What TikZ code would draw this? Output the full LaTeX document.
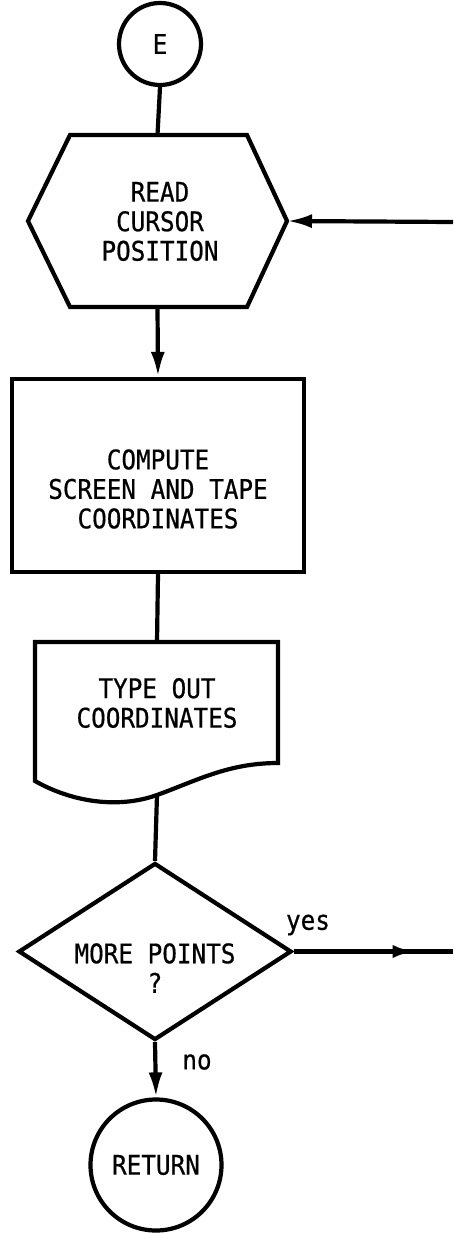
\documentclass[tikz,border=0pt]{standalone}
\usepackage{fontspec}
\newfontfamily\chartfont[FakeStretch=0.9, FakeBold=0.6]{DejaVu Sans Mono}
\usetikzlibrary{arrows.meta,shapes.geometric,decorations.markings}
\begin{document}
\begin{tikzpicture}[x=1pt,y=-1pt,
  flow/.style={line width=4.2pt, line join=miter},
  txt/.style={font=\chartfont\fontsize{27}{29.5}\selectfont, align=center, inner sep=0pt},
  tip/.style={-{Latex[length=25pt,width=14pt]}},
  midtip/.style={postaction={decorate, decoration={markings,
      mark=at position #1 with {\arrow{Latex[length=22pt,width=13pt]}}}}},
  terminal/.style={flow, draw, circle, inner sep=0pt},
  frame/.style={draw=none, inner sep=0pt, outer sep=0pt}
]
\useasboundingbox (0,0) rectangle (453,1233);

% entry connector
\node[terminal, minimum size=82pt, txt] (start) at (160,44) {E};

% read cursor position (hexagonal preparation box)
\node[frame, minimum width=259pt, minimum height=172pt] (read) at (157.5,221) {};
\draw[flow] ([xshift=42pt]read.north west) -- ([xshift=-40pt]read.north east)
  -- (read.east) -- ([xshift=-40pt]read.south east)
  -- ([xshift=42pt]read.south west) -- (read.west) -- cycle;
\node[txt] (readtext) at (160,221.5) {READ\\CURSOR\\POSITION};

% compute coordinates
\node[flow, draw, rectangle, minimum width=292pt, minimum height=193pt] (comp) at (158,475.5) {};
\node[txt] (comptext) at (158,489) {COMPUTE\\SCREEN AND TAPE\\COORDINATES};

% type out (document symbol)
\coordinate (docN) at (157,642);
\coordinate (docS) at (157,795);
\draw[flow] (35,781) -- (35,642) -- (278,642) -- (278,763)
  .. controls (228,763) and (196,781) .. (157,795)
  .. controls (118,809) and (72,802) .. (35,781) -- cycle;
\node[txt] (doctext) at (157,703) {TYPE OUT\\COORDINATES};

% decision
\node[flow, draw, diamond, aspect=1.54, inner sep=0pt,
      minimum width=273pt, minimum height=177pt] (dec) at (155,951.5) {};
\node[txt] (dectext) at (155,968) {MORE POINTS\\?};

% return
\node[terminal, minimum size=131pt, txt] (ret) at (156,1165) {RETURN};

% loose ends at the right margin
\coordinate (loopin) at (453,222);
\coordinate (loopout) at (453,951.5);

% connectors
\draw[flow] (start.south) -- (read.north);
\draw[flow, tip] (read.south) -- (comp.north);
\draw[flow] (comp.south) -- (docN);
\draw[flow] (docS) -- (dec.north);
\draw[flow, tip] (loopin) -- (read.east);
\draw[flow, midtip=0.76] (dec.east) -- (loopout);
\draw[flow, tip] (dec.south) -- (ret.north);

% branch labels
\node[txt] (yes) at (308,925) {yes};
\node[txt] (no) at (197,1062) {no};
\end{tikzpicture}
\end{document}
